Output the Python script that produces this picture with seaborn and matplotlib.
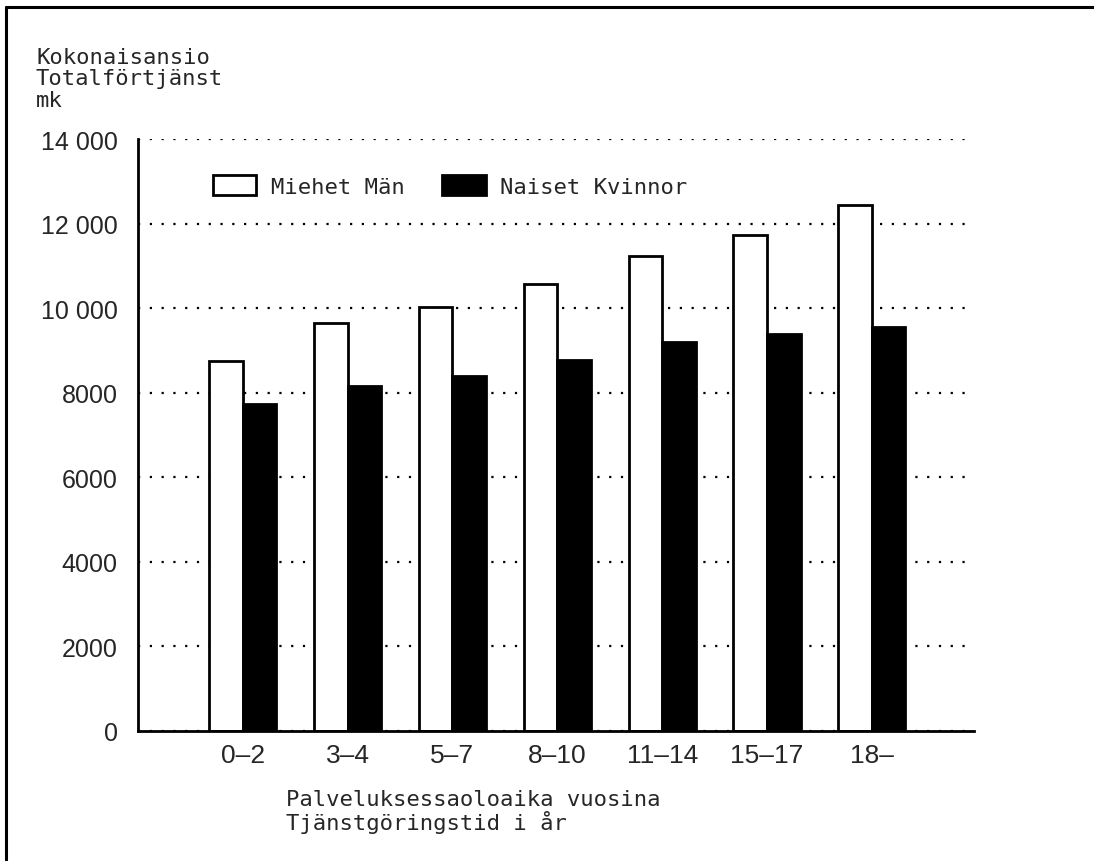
import matplotlib
matplotlib.use("Agg")
import matplotlib.pyplot as plt
from matplotlib.patches import Patch
from matplotlib.lines import Line2D
import pandas as pd
import seaborn as sns

# data (mk per month)
groups = ["0–2", "3–4", "5–7", "8–10", "11–14", "15–17", "18–"]
men = [8740, 9660, 10030, 10580, 11230, 11740, 12450]
women = [7740, 8170, 8400, 8780, 9200, 9380, 9550]
series = ["Miehet Män", "Naiset Kvinnor"]
yticks = [0, 2000, 4000, 6000, 8000, 10000, 12000, 14000]
ytick_labels = ["0", "2000", "4000", "6000", "8000", "10 000", "12 000", "14 000"]

sns.set_style("white")
plt.rcParams["font.family"] = ["Liberation Sans", "DejaVu Sans"]
mono = ["DejaVu Sans Mono", "DejaVu Sans"]

df = pd.DataFrame({
    "group": groups * 2,
    "value": men + women,
    "series": [series[0]] * len(groups) + [series[1]] * len(groups),
})

fig = plt.figure(figsize=(10.94, 8.62), dpi=100)
ax = fig.add_axes([138 / 1094, 130 / 862, 836 / 1094, 592 / 862])

ax.yaxis.grid(True, linestyle=(0, (1, 4.3)), linewidth=1.6, color="black")
ax.set_axisbelow(True)

sns.barplot(data=df, x="group", y="value", hue="series", order=groups,
            hue_order=series, palette=["white", "black"], edgecolor="black",
            linewidth=2, width=0.64, ax=ax, legend=False)

ax.set_xlim(-1.0, 6.975)
ax.set_ylim(0, 14000)
ax.set_yticks(yticks)
ax.set_yticklabels(ytick_labels)
ax.tick_params(axis="y", length=11, width=2, pad=3.5, labelsize=18, direction="out")
ax.tick_params(axis="x", length=0, pad=9, labelsize=19)

for side in ["top", "right"]:
    ax.spines[side].set_visible(False)
for side in ["left", "bottom"]:
    ax.spines[side].set_linewidth(2)
    ax.spines[side].set_color("black")

ax.set_xlabel("Palveluksessaoloaika vuosina\nTjänstgöringstid i år",
              family=mono, fontsize=16, ha="left", va="top", linespacing=1.05)
ax.xaxis.set_label_coords((286 - 138) / 836, (732 - 790) / 592)
ax.set_ylabel("Kokonaisansio\nTotalförtjänst\nmk", family=mono, fontsize=16,
              rotation=0, ha="left", va="top", linespacing=1.08)
ax.yaxis.set_label_coords((36 - 138) / 836, (732 - 48) / 592)

handles = [Patch(facecolor="white", edgecolor="black", linewidth=2),
           Patch(facecolor="black", edgecolor="black", linewidth=2)]
ax.legend(handles, series, loc="center left", bbox_to_anchor=(213 / 1094, 1 - 187 / 862),
          bbox_transform=fig.transFigure, ncol=2, frameon=False, borderpad=0,
          borderaxespad=0, handlelength=1.95, handleheight=1.0, handletextpad=0.65,
          columnspacing=1.7, prop={"family": mono, "size": 16})

# page border (top and left edge of the scanned frame)
fig.add_artist(Line2D([6 / 1094, 6 / 1094], [0, 1 - 8 / 862], transform=fig.transFigure,
                      color="black", linewidth=2.2))
fig.add_artist(Line2D([6 / 1094, 1], [1 - 8 / 862, 1 - 8 / 862], transform=fig.transFigure,
                      color="black", linewidth=2.2))

fig.savefig("out.png", dpi=100, facecolor="white")
